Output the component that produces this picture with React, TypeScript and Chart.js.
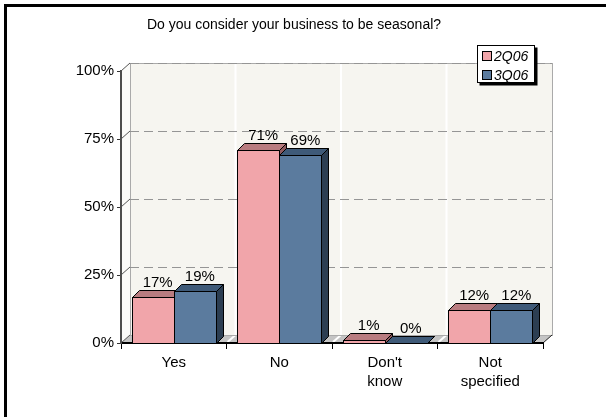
import React, { useEffect, useRef } from "react";
import { Chart, registerables } from "chart.js";

Chart.register(...registerables);

// ---- data ----
const categories: (string | string[])[] = ["Yes", "No", ["Don't", "know"], ["Not", "specified"]];
const seriesNames = ["2Q06", "3Q06"];
const values2Q06 = [17, 71, 1, 12];
const values3Q06 = [19, 69, 0, 12];
const yTickValues = [0, 25, 50, 75, 100];
const titleText = "Do you consider your business to be seasonal?";

// ---- styles ----
const FONT = '"Liberation Sans", Arial, sans-serif';
const faces = [
  { front: "#F1A5AA", top: "#B97C80", side: "#8F5A5E" },
  { front: "#5B7B9E", top: "#3F5A78", side: "#2C3E52" },
];
const WX = 9;
const WY = 8;
const BX = 7;
const BY = 7;

const excel3d = {
  id: "excel3d",
  beforeDraw(chart: any) {
    const { ctx, chartArea: ca } = chart;
    const yScale = chart.scales.y;
    const xScale = chart.scales.x;
    const L = ca.left, R = ca.right, T = ca.top, B = ca.bottom;
    ctx.save();
    ctx.fillStyle = "#ffffff";
    ctx.fillRect(0, 0, chart.width, chart.height);
    // frame
    ctx.fillStyle = "#000";
    ctx.fillRect(4, 4, chart.width, 3);
    ctx.fillRect(4, 4, 3, chart.height);
    // title
    ctx.font = `14px ${FONT}`;
    ctx.textAlign = "center";
    ctx.textBaseline = "alphabetic";
    ctx.fillStyle = "#000";
    ctx.fillText(titleText, 294, 29);

    // back wall
    ctx.fillStyle = "#F6F5F0";
    ctx.fillRect(L + WX, T - WY, R - L, B - T);
    // left wall
    ctx.beginPath();
    ctx.moveTo(L, T);
    ctx.lineTo(L + WX, T - WY);
    ctx.lineTo(L + WX, B - WY);
    ctx.lineTo(L, B);
    ctx.closePath();
    ctx.fillStyle = "#FBFBF9";
    ctx.fill();
    // floor
    ctx.beginPath();
    ctx.moveTo(L, B);
    ctx.lineTo(R, B);
    ctx.lineTo(R + WX, B - WY);
    ctx.lineTo(L + WX, B - WY);
    ctx.closePath();
    ctx.fillStyle = "#C4C4C4";
    ctx.fill();

    // category boundary white lines
    ctx.strokeStyle = "#ffffff";
    ctx.lineWidth = 2;
    for (let i = 1; i < categories.length; i++) {
      const b = (xScale.getPixelForTick(i - 1) + xScale.getPixelForTick(i)) / 2;
      ctx.beginPath();
      ctx.moveTo(b + WX, T - WY);
      ctx.lineTo(b + WX, B - WY);
      ctx.stroke();
      ctx.beginPath();
      ctx.moveTo(b + 1, B - 1);
      ctx.lineTo(b + WX, B - WY);
      ctx.stroke();
    }

    // back wall border
    ctx.lineWidth = 1;
    ctx.strokeStyle = "#AAAAAA";
    ctx.strokeRect(Math.round(L + WX) + 0.5, Math.round(T - WY) + 0.5, R - L, B - T);

    // dashed gridlines
    ctx.strokeStyle = "#959595";
    ctx.setLineDash([9, 5]);
    for (const v of yTickValues) {
      if (v === 0) continue;
      const y = Math.round(yScale.getPixelForValue(v) - WY) + 0.5;
      ctx.beginPath();
      ctx.moveTo(L + WX, y);
      ctx.lineTo(R + WX, y);
      ctx.stroke();
    }
    ctx.setLineDash([]);

    // left wall tick connectors
    ctx.strokeStyle = "#555";
    for (const v of yTickValues) {
      const y = yScale.getPixelForValue(v);
      ctx.beginPath();
      ctx.moveTo(L, y);
      ctx.lineTo(L + WX, y - WY);
      ctx.stroke();
    }
    // floor right edge
    ctx.strokeStyle = "#222";
    ctx.beginPath();
    ctx.moveTo(R, B);
    ctx.lineTo(R + WX, B - WY);
    ctx.stroke();
    ctx.restore();
  },
  beforeDatasetsDraw(chart: any) {
    const { ctx } = chart;
    const metas = [chart.getDatasetMeta(0), chart.getDatasetMeta(1)];
    ctx.save();
    ctx.lineWidth = 1;
    ctx.strokeStyle = "#000";
    ctx.lineJoin = "miter";
    const labels: { x: number; y: number; t: string }[] = [];
    for (let i = 0; i < categories.length; i++) {
      metas.forEach((meta: any, d: number) => {
        const el = meta.data[i];
        const f = faces[d];
        const left = Math.round(el.x - el.width / 2) + 0.5;
        const right = Math.round(el.x + el.width / 2) + 0.5;
        const top = Math.round(el.y) + 0.5;
        const base = Math.round(el.base) + 0.5;
        // front
        ctx.fillStyle = f.front;
        ctx.fillRect(left, top, right - left, base - top);
        ctx.strokeRect(left, top, right - left, base - top);
        // top
        ctx.beginPath();
        ctx.moveTo(left, top);
        ctx.lineTo(left + BX, top - BY);
        ctx.lineTo(right + BX, top - BY);
        ctx.lineTo(right, top);
        ctx.closePath();
        ctx.fillStyle = f.top;
        ctx.fill();
        ctx.stroke();
        // side
        ctx.beginPath();
        ctx.moveTo(right, top);
        ctx.lineTo(right + BX, top - BY);
        ctx.lineTo(right + BX, base - BY);
        ctx.lineTo(right, base);
        ctx.closePath();
        ctx.fillStyle = f.side;
        ctx.fill();
        ctx.stroke();
        const v = chart.data.datasets[d].data[i];
        labels.push({ x: el.x + 5, y: el.y - BY - 3, t: `${v}%` });
      });
    }
    ctx.font = `15px ${FONT}`;
    ctx.textAlign = "center";
    ctx.textBaseline = "alphabetic";
    ctx.fillStyle = "#000";
    for (const l of labels) ctx.fillText(l.t, l.x, l.y);
    ctx.restore();
    return false;
  },
  afterDraw(chart: any) {
    const { ctx } = chart;
    ctx.save();
    const bx = 477.5, by = 45.5, bw = 57, bh = 37;
    ctx.fillStyle = "#000";
    ctx.fillRect(bx + 2, by + 2, bw + 1, bh + 1);
    ctx.fillStyle = "#fff";
    ctx.fillRect(bx, by, bw, bh);
    ctx.strokeStyle = "#000";
    ctx.lineWidth = 1;
    ctx.strokeRect(bx, by, bw, bh);
    ctx.font = `italic 14px ${FONT}`;
    ctx.textAlign = "left";
    ctx.textBaseline = "alphabetic";
    seriesNames.forEach((name, d) => {
      const sy = 51.5 + d * 19;
      ctx.fillStyle = chart.data.datasets[d].backgroundColor;
      ctx.fillRect(482.5, sy, 9, 9);
      ctx.strokeRect(482.5, sy, 9, 9);
      ctx.fillStyle = "#000";
      ctx.fillText(name, 494, 60.5 + d * 19);
    });
    ctx.restore();
  },
};

export default function App() {
  const ref = useRef<HTMLCanvasElement>(null);
  useEffect(() => {
    const chart = new Chart(ref.current as HTMLCanvasElement, {
      type: "bar",
      data: {
        labels: categories as any,
        datasets: [
          { label: seriesNames[0], data: values2Q06, backgroundColor: faces[0].front },
          { label: seriesNames[1], data: values3Q06, backgroundColor: faces[1].front },
        ],
      },
      options: {
        animation: false,
        responsive: false,
        devicePixelRatio: 1,
        layout: { padding: { left: 0, top: 71, right: 63, bottom: 0 } },
        datasets: { bar: { categoryPercentage: 0.8, barPercentage: 1 } },
        plugins: { legend: { display: false }, title: { display: false }, tooltip: { enabled: false } },
        scales: {
          x: {
            grid: { drawOnChartArea: false, drawTicks: true, tickLength: 6, color: "#000", offset: true },
            border: { display: true, color: "#000", width: 2 },
            ticks: {
              color: "#000",
              font: { family: FONT, size: 15, lineHeight: 1.28 },
              padding: 4,
              maxRotation: 0,
              autoSkip: false,
            },
            afterFit: (s: any) => {
              s.height = 74;
            },
          },
          y: {
            min: 0,
            max: 100,
            grid: { drawOnChartArea: false, drawTicks: true, tickLength: 4, color: "#333" },
            border: { display: true, color: "#4d4d4d", width: 2 },
            ticks: {
              stepSize: 25,
              color: "#000",
              font: { family: FONT, size: 15 },
              padding: 3,
              callback: (v: any) => `${v}%`,
            },
            afterFit: (s: any) => {
              s.width = 121;
            },
          },
        },
      },
      plugins: [excel3d as any],
    });
    return () => chart.destroy();
  }, []);
  return (
    <div style={{ position: "fixed", left: 0, top: 0, width: 606, height: 417, background: "#fff" }}>
      <canvas ref={ref} width={606} height={417} style={{ display: "block" }} />
    </div>
  );
}
